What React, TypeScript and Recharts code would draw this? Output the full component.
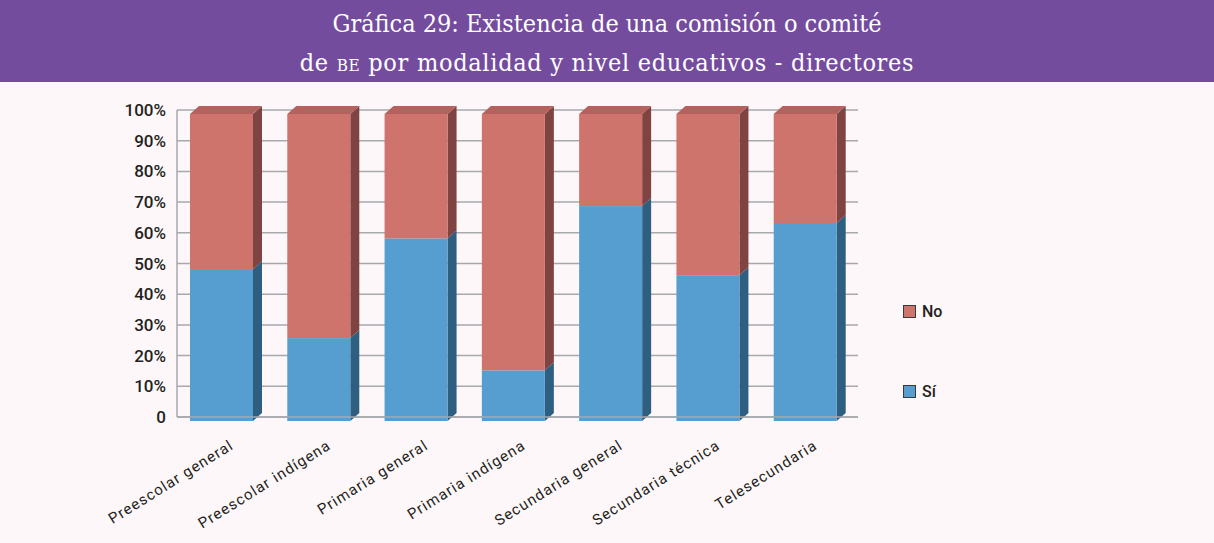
import React from 'react';
import { BarChart, Bar, XAxis, YAxis, CartesianGrid, Legend } from 'recharts';

const categories = [
  'Preescolar general',
  'Preescolar indígena',
  'Primaria general',
  'Primaria indígena',
  'Secundaria general',
  'Secundaria técnica',
  'Telesecundaria',
];
const siValues = [49.5, 27, 59.5, 16.5, 70, 47.5, 64.5];
const noValues = [50.5, 73, 40.5, 83.5, 30, 52.5, 35.5];
const yTicks = [0, 10, 20, 30, 40, 50, 60, 70, 80, 90, 100];
const legendItems = [
  { label: 'No', color: '#CF736D' },
  { label: 'Sí', color: '#559ECF' },
];

const data = categories.map((c, i) => ({ name: c, si: siValues[i], no: noValues[i] }));

const DX = 9;
const DY = 8;

function make3D(front: string, side: string, top: string, withTop: boolean) {
  return (props: any) => {
    const { x, y, width, height } = props;
    if (x == null || y == null || !width || height == null) return <g />;
    const fw = width - DX;
    const h2 = DY / 2;
    return (
      <g>
        <polygon
          points={`${x + fw},${y + h2} ${x + width},${y - h2} ${x + width},${y + height - h2} ${x + fw},${y + height + h2}`}
          fill={side}
        />
        {withTop && (
          <polygon
            points={`${x},${y + h2} ${x + DX},${y - h2} ${x + width},${y - h2} ${x + fw},${y + h2}`}
            fill={top}
          />
        )}
        <rect x={x} y={y + h2} width={fw} height={height} fill={front} />
      </g>
    );
  };
}

const SiShape = make3D('#559ECF', '#2E5F80', '#3F7FAA', false);
const NoShape = make3D('#CF736D', '#7F4341', '#B5625E', true);

const XTick = (props: any) => {
  const { x, y, payload } = props;
  const ax = x + 9;
  const ay = y + 23;
  return (
    <text
      x={ax}
      y={ay}
      textAnchor="end"
      transform={`rotate(-32, ${ax}, ${ay})`}
      fontFamily="Roboto, sans-serif"
      fontSize={15}
      letterSpacing={1.1}
      fill="#231F20"
    >
      {payload.value}
    </text>
  );
};

const LegendContent = () => (
  <div style={{ position: 'relative', width: 100, height: 100 }}>
    {legendItems.map((it, i) => (
      <div
        key={it.label}
        style={{
          position: 'absolute',
          left: 0,
          top: i * 80,
          display: 'flex',
          alignItems: 'center',
          fontFamily: 'Roboto, sans-serif',
          fontSize: 16,
          fontWeight: 500,
          color: '#231F20',
          whiteSpace: 'nowrap',
        }}
      >
        <span
          style={{
            display: 'inline-block',
            width: 11,
            height: 11,
            background: it.color,
            border: '1px solid #3a3a3a',
            marginRight: 6,
          }}
        />
        {it.label}
      </div>
    ))}
  </div>
);

export default function App() {
  return (
    <div
      style={{
        position: 'fixed',
        left: 0,
        top: 0,
        width: 1214,
        height: 543,
        background: '#FDF7F9',
        overflow: 'hidden',
      }}
    >
      <svg
        width={1214}
        height={82}
        style={{ position: 'absolute', left: 0, top: 0, display: 'block' }}
      >
        <rect x={0} y={0} width={1214} height={82} fill="#744C9E" />
        <text
          x={607}
          y={32}
          textAnchor="middle"
          fill="#FFFFFF"
          fontFamily='"DejaVu Serif Condensed", "DejaVu Serif", serif'
          fontSize={25}
        >
          Gráfica 29: Existencia de una comisión o comité
        </text>
        <text
          x={607}
          y={71}
          textAnchor="middle"
          fill="#FFFFFF"
          fontFamily='"DejaVu Serif Condensed", "DejaVu Serif", serif'
          fontSize={25}
          letterSpacing={0.7}
        >
          de <tspan fontSize={17}>BE</tspan> por modalidad y nivel educativos - directores
        </text>
      </svg>
      <div style={{ position: 'absolute', left: 0, top: 0 }}>
        <BarChart
          width={1214}
          height={543}
          data={data}
          margin={{ top: 110, right: 356, bottom: 26, left: 117 }}
          barSize={72}
        >
          <CartesianGrid vertical={false} stroke="#A7A9AC" strokeWidth={1.5} />
          <XAxis
            dataKey="name"
            height={100}
            interval={0}
            tick={<XTick />}
            tickLine={false}
            axisLine={{ stroke: '#A7A9AC', strokeWidth: 1.5 }}
          />
          <YAxis
            width={60}
            domain={[0, 100]}
            ticks={yTicks}
            interval={0}
            tickLine={false}
            tickMargin={5}
            axisLine={{ stroke: '#A7A9AC', strokeWidth: 1.5 }}
            tickFormatter={(v: number) => (v === 0 ? '0' : `${v}%`)}
            tick={{ fontFamily: 'Roboto, sans-serif', fontSize: 17, fontWeight: 500, fill: '#231F20' }}
          />
          <Legend
            layout="horizontal"
            verticalAlign="middle"
            align="center"
            content={<LegendContent />}
            wrapperStyle={{ left: 903, top: 302, width: 100, height: 100 }}
          />
          <Bar dataKey="si" stackId="a" shape={SiShape} isAnimationActive={false} />
          <Bar dataKey="no" stackId="a" shape={NoShape} isAnimationActive={false} />
        </BarChart>
      </div>
    </div>
  );
}
